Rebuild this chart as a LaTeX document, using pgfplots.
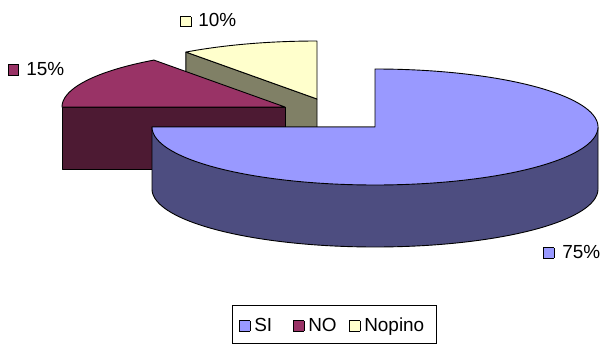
\documentclass[border=0pt]{standalone}
\usepackage{fontspec}
\setmainfont{Liberation Sans}
\usepackage{pgfplots}
\pgfplotsset{compat=1.18}
\definecolor{siTop}{RGB}{153,153,255}
\definecolor{siSide}{RGB}{77,77,128}
\definecolor{noTop}{RGB}{153,51,102}
\definecolor{noSide}{RGB}{77,26,51}
\definecolor{npTop}{RGB}{255,255,204}
\definecolor{npSide}{RGB}{128,128,102}
% data (percent)
\def\vSI{75}\def\vNO{15}\def\vNP{10}
% geometry of the 3D pie (pixels)
\def\A{223}\def\B{58}\def\D{62}
\def\cxSI{375}\def\cySI{127}
\def\cxNO{285}\def\cyNO{107}
\def\cxNP{317}\def\cyNP{99}
\pgfmathsetmacro\tNO{3.6*\vSI}
\pgfmathsetmacro\tNP{3.6*(\vSI+\vNO)}
\pgfmathsetmacro\tEnd{3.6*(\vSI+\vNO+\vNP)}
\pgfmathsetmacro\npx{\cxNP+\A*sin(\tNP)}
\pgfmathsetmacro\npy{\cyNP-\B*cos(\tNP)}
\pgfmathsetmacro\npyb{\npy+\D}
\pgfmathsetmacro\npcyb{\cyNP+\D}
\pgfmathsetmacro\nox{\cxNO+\A*sin(\tNO)}
\pgfmathsetmacro\noy{\cyNO-\B*cos(\tNO)}
\pgfmathsetmacro\noyb{\noy+\D}
\pgfmathsetmacro\nocyb{\cyNO+\D}
\pgfmathsetmacro\siL{\cxSI-\A}
\pgfmathsetmacro\siR{\cxSI+\A}
\newcommand\key[1]{\raisebox{0.5bp}{\setlength\fboxsep{0pt}\setlength\fboxrule{0.8bp}\fcolorbox{black}{#1}{\rule{0pt}{9.5bp}\hspace{9.5bp}}}}
\tikzset{lbl/.style={anchor=base west, inner sep=0pt, font=\fontsize{19}{22}\selectfont}}
\begin{document}
\begin{tikzpicture}
\useasboundingbox (0,0) rectangle (605bp,345bp);
\begin{axis}[at={(0,0)}, anchor=south west, scale only axis,
  width=605bp, height=345bp, xmin=0, xmax=605, ymin=0, ymax=345,
  y dir=reverse, axis lines=none, clip=false,
  every axis plot/.append style={line width=0.9bp, line join=round},
]
% Nopino (exploded, back)
\addplot[fill=npSide, draw=black] coordinates {(\cxNP,\cyNP) (\npx,\npy) (\npx,\npyb) (\cxNP,\npcyb) (\cxNP,\cyNP)};
\addplot[fill=npTop, draw=black, domain=\tNP:\tEnd, samples=40, variable=\t]
  ({\cxNP+\A*sin(\t)},{\cyNP-\B*cos(\t)}) -- (axis cs:\cxNP,\cyNP) -- cycle;
% NO (exploded)
\addplot[fill=noSide, draw=black] coordinates {(\cxNO,\cyNO) (\nox,\noy) (\nox,\noyb) (\cxNO,\nocyb) (\cxNO,\cyNO)};
\addplot[fill=noTop, draw=black, domain=\tNO:\tNP, samples=50, variable=\t]
  ({\cxNO+\A*sin(\t)},{\cyNO-\B*cos(\t)}) -- (axis cs:\cxNO,\cyNO) -- cycle;
% SI
\addplot[fill=siSide, draw=black, domain=90:270, samples=120, variable=\t]
  ({\cxSI+\A*sin(\t)},{\cySI+\D-\B*cos(\t)}) -- (axis cs:\siL,\cySI) -- (axis cs:\siR,\cySI) -- cycle;
\addplot[fill=siTop, draw=black, domain=0:\tNO, samples=180, variable=\t]
  ({\cxSI+\A*sin(\t)},{\cySI-\B*cos(\t)}) -- (axis cs:\cxSI,\cySI) -- cycle;
% data labels
\node[lbl] at (axis cs:180,27) {\key{npTop}\hspace{7bp}10\%};
\node[lbl] at (axis cs:8,75) {\key{noTop}\hspace{7bp}15\%};
\node[lbl] at (axis cs:543,258) {\key{siTop}\hspace{8bp}75\%};
% legend
\draw[black, line width=0.8bp] (axis cs:232.5,305) rectangle (axis cs:436.5,343.5);
\node[lbl] at (axis cs:239,331) {\key{siTop}\kern4bp SI};
\node[lbl] at (axis cs:293,331) {\key{noTop}\kern4bp NO};
\node[lbl] at (axis cs:349,331) {\key{npTop}\kern4bp Nopino};
\end{axis}
\end{tikzpicture}
\end{document}
